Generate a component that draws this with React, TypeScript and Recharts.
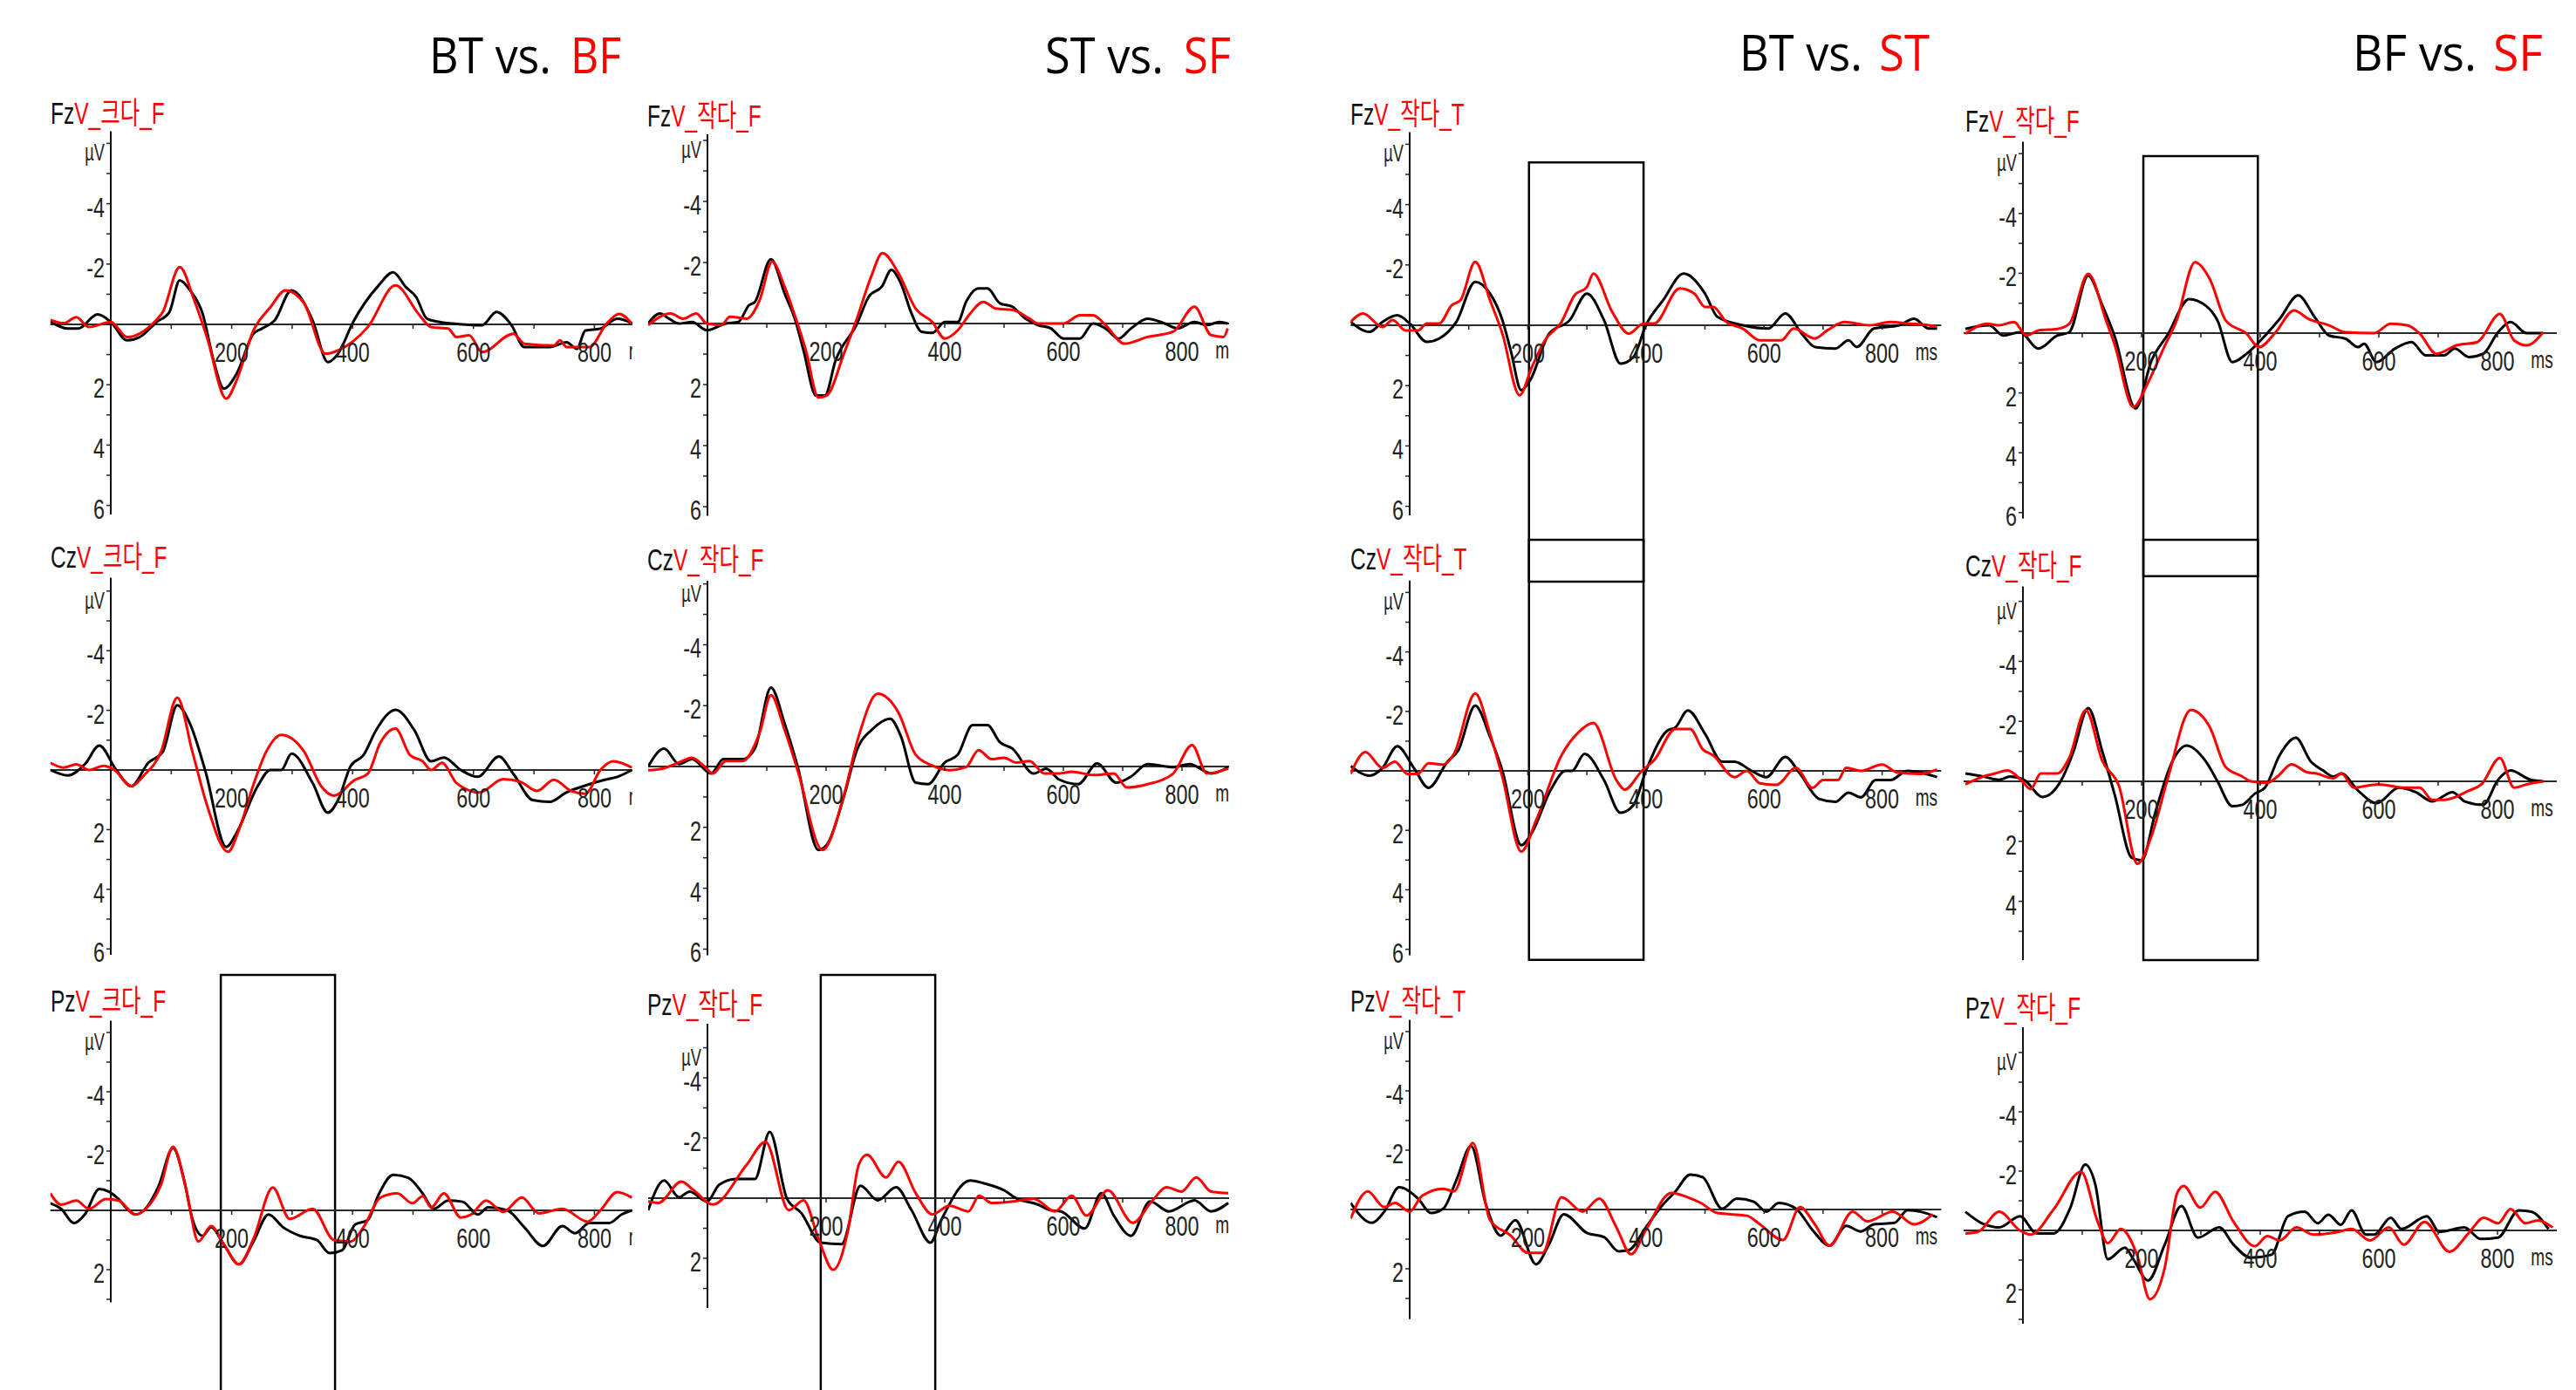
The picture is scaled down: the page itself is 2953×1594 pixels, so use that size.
import React from 'react';
import { LineChart, Line, XAxis, YAxis, ReferenceLine, ReferenceArea } from 'recharts';

type Pt = [number, number];

// ERP waveforms: [ms, µV] (negative up)
// BT vs. BF
const btbfFzBT: Pt[] = [[-100,-0.1],[-71,0.14],[-54,0.14],[-22,-0.33],[0,-0.08],[27,0.53],[48,0.42],[76,-0.08],[97,-0.41],[114,-1.46],[131,-1.13],[152,-0.35],[170,1.19],[187,2.13],[208,1.64],[236,0.31],[250,0.14],[271,-0.13],[299,-1.13],[334,-0.13],[359,1.25],[376,0.97],[401,-0.08],[443,-1.29],[467,-1.73],[488,-1.24],[505,-0.91],[523,-0.19],[544,-0.08],[569,-0.02],[614,0.03],[638,-0.41],[663,0.03],[684,0.75],[726,0.75],[754,0.59],[771,0.81],[785,0.2],[810,0.14],[838,-0.19],[862,-0.04]];
const btbfFzBF: Pt[] = [[-100,-0.15],[-78,-0.04],[-57,-0.24],[-36,0.09],[0,-0.08],[27,0.42],[69,-0.02],[86,-0.41],[114,-1.9],[138,-0.8],[159,0.42],[191,2.46],[208,1.86],[236,0.2],[264,-0.57],[289,-1.13],[320,-0.69],[355,0.97],[376,0.86],[425,0.09],[471,-1.29],[509,-0.35],[530,0.09],[558,0.14],[572,0.42],[593,0.36],[614,0.92],[666,0.31],[684,0.64],[733,0.7],[743,0.53],[754,0.75],[792,0.75],[820,-0.02],[841,-0.35],[862,-0.02]];
const btbfCzBT: Pt[] = [[-100,0],[-71,0.18],[-43,-0.19],[-19,-0.82],[9,0],[34,0.54],[62,-0.24],[86,-0.61],[110,-2.17],[131,-1.55],[156,0],[191,2.58],[208,2.11],[243,0.54],[264,0],[282,0],[299,-0.55],[334,0.44],[359,1.43],[376,1.01],[397,-0.14],[418,-0.5],[439,-1.34],[471,-2.02],[502,-1.34],[530,-0.29],[551,-0.42],[579,0],[607,0.23],[642,-0.45],[666,0.13],[698,1.01],[726,1.07],[754,0.75],[782,0.54],[817,0.33],[838,0.23],[862,0]];
const btbfCzBF: Pt[] = [[-100,-0.24],[-78,-0.08],[-57,-0.19],[-36,0],[-12,-0.14],[6,0],[34,0.54],[55,0.18],[83,-0.61],[110,-2.43],[135,-0.61],[159,1.17],[194,2.74],[212,2.01],[236,0.49],[257,-0.61],[282,-1.18],[320,-0.61],[348,0.54],[369,0.86],[404,0.33],[425,0.13],[446,-0.92],[471,-1.39],[495,-0.5],[516,-0.29],[530,0],[548,-0.24],[572,0.44],[610,0.75],[649,0.31],[677,0.39],[705,0.7],[733,0.33],[761,0.7],[785,0.8],[810,0],[831,-0.29],[862,-0.08]];
const btbfPzBT: Pt[] = [[-100,-0.24],[-82,-0.05],[-61,0.43],[-43,0.14],[-19,-0.72],[13,-0.38],[27,-0.05],[41,0.14],[55,0],[79,-0.81],[103,-2.1],[121,-1.05],[135,0.29],[152,0.86],[166,0.57],[187,1.15],[212,1.82],[236,1.05],[261,0.14],[285,0.57],[313,0.86],[341,1],[362,1.44],[383,1.34],[404,0.48],[425,0.33],[443,-0.53],[467,-1.2],[492,-1.1],[516,-0.57],[534,-0.05],[558,-0.33],[582,-0.29],[607,0.14],[624,-0.1],[656,0],[684,0.57],[715,1.2],[747,0.53],[768,0.77],[792,0.43],[824,0.43],[845,0.14],[862,0]];
const btbfPzBF: Pt[] = [[-100,-0.57],[-82,-0.19],[-57,-0.33],[-36,-0.05],[-8,-0.38],[13,-0.33],[41,0.14],[58,-0.05],[83,-0.86],[103,-2.15],[124,-0.77],[145,1.05],[166,0.53],[187,1.15],[212,1.82],[236,0.96],[268,-0.77],[296,0.29],[334,-0.05],[369,1],[397,1.05],[418,0.57],[446,-0.43],[474,-0.57],[499,-0.24],[516,-0.48],[530,-0.1],[551,-0.57],[579,0.24],[596,0.14],[621,-0.33],[649,0.05],[680,-0.43],[708,0.1],[747,-0.05],[789,0.38],[810,0],[838,-0.62],[862,-0.43]];

// ST vs. SF
const stsfFzST: Pt[] = [[-100,0],[-80,-0.33],[-65,-0.16],[-48,0],[-26,-0.05],[-1,0.22],[31,0],[52,-0.05],[70,-0.6],[80,-0.71],[107,-2.11],[130,-0.99],[148,-0.11],[162,0.88],[183,2.36],[198,2.36],[216,1.21],[251,0.05],[272,-0.88],[294,-1.21],[310,-1.76],[326,-1.32],[344,-0.33],[361,0.27],[379,0.31],[400,-0.05],[422,-0.05],[436,-0.71],[457,-1.15],[472,-1.15],[493,-0.66],[514,-0.55],[536,-0.16],[557,0.05],[579,0.16],[600,0.49],[628,0.49],[650,0],[671,0.16],[693,0.49],[714,0.16],[742,-0.16],[771,0],[792,0.16],[821,-0.05],[842,0.05],[863,-0.05],[877,0]];
const stsfFzSF: Pt[] = [[-100,0.05],[-62,-0.33],[-41,-0.16],[-19,-0.33],[-1,0],[23,0.05],[38,-0.22],[66,-0.16],[88,-0.77],[109,-2.03],[130,-1.21],[148,-0.22],[166,0.88],[187,2.42],[201,2.36],[230,0.99],[251,-0.11],[276,-1.54],[295,-2.31],[322,-1.65],[351,-0.49],[379,-0.05],[400,0.49],[422,0.22],[443,-0.33],[465,-0.71],[486,-0.49],[515,-0.44],[543,-0.16],[557,0],[600,0],[628,-0.27],[650,-0.27],[671,0.05],[703,0.66],[742,0.44],[785,0.27],[821,-0.55],[849,0.38],[870,0.44],[877,0.16]];
const stsfCzST: Pt[] = [[-100,0],[-73,-0.59],[-48,-0.08],[-26,-0.24],[6,0.23],[27,-0.24],[59,-0.24],[80,-0.59],[107,-2.59],[130,-1.42],[152,0],[187,2.74],[201,2.58],[230,0.99],[251,-0.49],[280,-1.26],[308,-1.57],[326,-1],[351,0.53],[372,0.58],[400,-0.13],[422,-0.39],[447,-1.36],[472,-1.36],[493,-0.8],[514,-0.59],[550,0.23],[571,0.07],[593,0.43],[625,0.58],[657,-0.1],[689,0.53],[714,0.33],[742,-0.08],[785,0.02],[813,-0.08],[849,0.23],[878,0.02]];
const stsfCzSF: Pt[] = [[-100,0.12],[-76,0.07],[-48,-0.13],[-26,-0.29],[-5,0],[9,0.23],[31,-0.18],[59,-0.18],[88,-1.11],[107,-2.34],[130,-1.21],[152,0.12],[194,2.74],[230,0.94],[255,-1],[287,-2.39],[322,-1.77],[351,-0.39],[379,-0.03],[408,0.12],[436,0.02],[457,-0.54],[479,-0.24],[500,-0.29],[521,-0.13],[543,-0.18],[568,0.23],[593,0.23],[614,0.17],[650,0.28],[685,0.23],[707,0.69],[742,0.58],[785,0.23],[817,-0.7],[842,0.23],[878,0.07]];
const stsfPzST: Pt[] = [[-100,0.4],[-73,-0.59],[-48,-0.03],[-30,-0.22],[-1,0.11],[20,-0.45],[48,-0.64],[80,-0.64],[105,-2.2],[134,0.02],[158,0.49],[191,1.48],[226,1.53],[258,-0.41],[287,0.07],[318,-0.36],[344,0.4],[376,1.48],[393,0.77],[443,-0.59],[465,-0.5],[500,-0.26],[522,0.02],[557,0.21],[578,0.4],[596,0.44],[636,1.01],[664,-0.17],[685,0.58],[714,1.25],[746,0.11],[778,0.44],[821,0.07],[849,0.44],[878,0.16]];
const stsfPzSF: Pt[] = [[-100,0.11],[-83,0.16],[-44,-0.55],[-23,-0.26],[9,0.21],[66,-1.11],[98,-1.87],[137,0.4],[162,0.07],[187,1.34],[212,2.38],[237,1.06],[255,-1.11],[269,-1.44],[301,-0.69],[322,-1.21],[351,-0.17],[379,0.54],[408,0.25],[440,0.44],[458,-0.08],[479,0.16],[515,0.11],[550,0.02],[586,0.44],[614,-0.08],[639,0.58],[675,-0.26],[717,0.82],[749,0.11],[774,-0.36],[799,-0.22],[824,-0.69],[849,-0.22],[878,-0.17]];

// BT vs. ST
const btstFzBT: Pt[] = [[-100,-0.11],[-68,0.22],[-46,-0.11],[-21,-0.33],[0,-0.06],[29,0.55],[50,0.44],[79,-0.11],[111,-1.44],[136,-1.05],[157,-0.17],[171,0.83],[189,2.15],[204,1.82],[236,0.28],[271,-0.17],[300,-1.05],[329,-0.17],[357,1.27],[379,1.05],[400,0],[429,-0.83],[464,-1.71],[500,-1.05],[521,-0.28],[564,0],[607,0.11],[636,-0.39],[664,0.28],[686,0.72],[721,0.77],[743,0.5],[757,0.72],[786,0.11],[829,0],[854,-0.22],[879,0.11],[893,0.11]];
const btstFzST: Pt[] = [[-100,-0.11],[-79,-0.39],[-46,0.06],[-29,-0.17],[-7,0.17],[14,0.17],[29,-0.06],[50,-0.06],[71,-0.66],[86,-0.83],[111,-2.1],[136,-0.83],[157,0.28],[186,2.32],[207,1.38],[229,0.5],[257,-0.11],[279,-0.99],[300,-1.27],[311,-1.71],[343,-0.44],[371,0.28],[396,-0.06],[414,-0.06],[457,-1.22],[482,-1.05],[500,-0.61],[514,-0.61],[536,-0.11],[564,0.11],[593,0.5],[629,0.5],[650,0.11],[686,0.44],[707,0.17],[736,-0.11],[779,0],[814,-0.11],[843,-0.06],[879,0],[893,0.06]];
const btstCzBT: Pt[] = [[-100,-0.16],[-68,0.16],[-46,-0.1],[-21,-0.83],[7,-0.1],[32,0.57],[64,-0.31],[82,-0.68],[111,-2.19],[136,-1.15],[157,0],[189,2.5],[207,2.08],[239,0.63],[264,0],[275,0],[296,-0.57],[329,0.31],[357,1.41],[379,1.15],[400,0],[436,-1.35],[450,-1.46],[471,-2.03],[500,-1.25],[529,-0.31],[550,-0.31],[579,0],[604,0.21],[636,-0.47],[661,0.1],[693,0.94],[721,1.04],[743,0.73],[764,0.89],[789,0.31],[814,0.31],[843,0],[893,0.21]];
const btstCzST: Pt[] = [[-100,0.1],[-75,-0.63],[-46,-0.1],[-25,-0.31],[-4,0.1],[14,0.1],[32,-0.26],[57,-0.21],[75,-0.57],[111,-2.6],[136,-1.25],[157,0.21],[189,2.71],[214,1.67],[257,-0.52],[286,-1.3],[311,-1.61],[350,0.31],[364,0.63],[393,0],[414,-0.36],[450,-1.41],[475,-1.41],[496,-0.73],[514,-0.52],[550,0.21],[571,0],[593,0.42],[621,0.47],[654,-0.1],[682,0.57],[700,0.31],[725,0.31],[739,-0.1],[764,0],[800,-0.21],[825,0.05],[864,0.1],[893,-0.05]];
const btstPzBT: Pt[] = [[-100,-0.22],[-64,0.45],[-43,0.07],[-18,-0.75],[14,-0.37],[36,0.12],[57,-0.03],[79,-0.99],[104,-2.14],[129,-0.17],[154,0.88],[179,0.36],[214,1.85],[236,1.17],[261,0.16],[300,0.79],[329,0.93],[354,1.41],[371,1.37],[400,0.6],[429,-0.17],[450,-0.61],[475,-1.18],[496,-1.09],[529,-0.03],[554,-0.37],[582,-0.27],[604,0.07],[625,-0.22],[654,-0.03],[682,0.69],[711,1.22],[739,0.55],[764,0.74],[786,0.5],[821,0.45],[843,0.02],[864,0.07],[893,0.26]];
const btstPzST: Pt[] = [[-100,0.31],[-71,-0.61],[-43,-0.08],[-25,-0.22],[0,0.07],[21,-0.46],[57,-0.7],[75,-0.61],[107,-2.24],[136,0.36],[171,0.88],[200,1.46],[225,1.46],[257,-0.41],[293,0.07],[321,-0.37],[350,0.6],[375,1.51],[400,0.69],[443,-0.56],[471,-0.41],[493,-0.22],[521,0.12],[543,0.16],[571,0.21],[593,0.5],[632,1.03],[661,-0.08],[686,0.5],[711,1.22],[750,0.07],[775,0.4],[818,0.07],[854,0.5],[886,0.16]];

// BF vs. SF
const bfsfFzBF: Pt[] = [[-97,-0.14],[-57,-0.26],[-33,0.08],[-5,-0.03],[26,0.52],[58,0.08],[78,-0.03],[110,-1.92],[134,-0.92],[155,0.13],[190,2.52],[217,0.91],[245,0.02],[280,-1.14],[308,-0.92],[328,-0.42],[353,0.97],[377,0.69],[398,0.3],[433,-0.48],[464,-1.26],[492,-0.53],[516,0.08],[544,0.19],[565,0.47],[575,0.36],[596,0.97],[627,0.52],[655,0.3],[679,0.74],[710,0.74],[728,0.52],[752,0.8],[776,0.69],[801,-0.03],[822,-0.37],[849,0],[877,0]];
const bfsfFzSF: Pt[] = [[-97,0.02],[-60,-0.31],[-40,-0.26],[-15,-0.37],[6,0.08],[26,-0.09],[58,-0.14],[78,-0.31],[110,-1.98],[141,-0.37],[155,0.41],[186,2.47],[210,1.69],[238,0.47],[259,-0.42],[290,-2.37],[315,-1.81],[342,-0.42],[377,0.02],[398,0.47],[426,-0.03],[457,-0.76],[481,-0.48],[516,-0.26],[544,-0.03],[592,0],[620,-0.31],[648,-0.26],[669,0.02],[697,0.69],[731,0.41],[766,0.3],[804,-0.64],[828,0.24],[849,0.41],[877,-0.03]];
const bfsfCzBF: Pt[] = [[-97,-0.26],[-67,-0.16],[-40,-0.05],[-22,-0.16],[2,-0.05],[33,0.52],[65,-0.05],[85,-0.98],[110,-2.44],[134,-0.98],[155,0.47],[183,2.54],[200,2.64],[224,0.98],[252,-0.67],[276,-1.19],[308,-0.67],[328,0],[353,0.83],[370,0.78],[391,0.41],[408,0.21],[433,-0.88],[460,-1.45],[485,-0.67],[506,-0.36],[523,-0.16],[537,-0.26],[565,0.31],[596,0.73],[634,0.21],[662,0.36],[690,0.67],[724,0.36],[745,0.67],[776,0.78],[801,-0.05],[822,-0.36],[856,-0.05],[877,0]];
const bfsfCzSF: Pt[] = [[-97,0.1],[-67,-0.16],[-47,-0.26],[-26,-0.36],[-1,0],[13,0.26],[30,-0.26],[58,-0.26],[78,-0.78],[106,-2.38],[134,-0.67],[162,0.16],[193,2.75],[217,1.81],[245,-0.16],[283,-2.38],[315,-1.81],[342,-0.47],[370,-0.16],[384,0],[412,0.05],[429,-0.16],[453,-0.57],[478,-0.31],[495,-0.26],[523,-0.1],[537,-0.26],[558,0.21],[599,0.1],[641,0.21],[669,0.21],[690,0.62],[710,0.62],[752,0.31],[773,0.1],[804,-0.78],[828,0.21],[849,0.1],[877,0]];
const bfsfPzBF: Pt[] = [[-97,-0.63],[-69,-0.24],[-40,-0.1],[-5,-0.48],[23,0.1],[52,0.1],[80,-0.77],[105,-2.22],[122,-1.55],[143,0.97],[172,0.58],[186,0.97],[211,1.69],[239,0.48],[267,-0.82],[295,0.24],[331,-0.1],[355,0.48],[384,0.92],[419,0.82],[447,-0.48],[475,-0.63],[497,-0.24],[515,-0.53],[536,-0.19],[554,-0.68],[578,0.14],[592,0.14],[620,-0.43],[638,-0.05],[681,-0.48],[702,0.05],[744,-0.1],[772,0.29],[801,0.24],[836,-0.68],[857,-0.63],[886,-0.05]];
const bfsfPzSF: Pt[] = [[-97,0.1],[-76,0.05],[-40,-0.63],[-5,0],[13,0.14],[52,-0.72],[98,-1.98],[126,-0.29],[143,0.43],[165,-0.05],[193,0.87],[214,2.32],[239,1.26],[260,-1.26],[271,-1.5],[299,-0.77],[324,-1.3],[355,-0.29],[391,0.53],[412,0.19],[433,0.34],[461,-0.1],[490,0.14],[532,0.05],[554,-0.05],[585,0.34],[617,-0.1],[642,0.48],[677,-0.29],[719,0.72],[751,0.1],[777,-0.43],[801,-0.24],[822,-0.72],[847,-0.24],[868,-0.34],[893,-0.1]];

// column titles and panel labels
const titleBlack = ['BT vs.', 'ST vs.', 'BT vs.', 'BF vs.'];
const titleRed = ['BF', 'SF', 'ST', 'SF'];
const conditionLabels = ['V_크다_F', 'V_작다_F', 'V_작다_T', 'V_작다_F'];
const channels = ['Fz', 'Cz', 'Pz'];

// highlighted time windows (ms, µV of the panel they are drawn in)
const windows = [
  { panel: 2, x1: 202, x2: 396, y1: -5.4, y2: 8.5 },
  { panel: 3, x1: 203, x2: 396, y1: -5.92, y2: 8.13 },
  { panel: 6, x1: 202, x2: 396, y1: -7.77, y2: 6.36 },
  { panel: 7, x1: 203, x2: 396, y1: -8.05, y2: 5.96 },
  { panel: 8, x1: 182, x2: 371, y1: -7.94, y2: 7.5 },
  { panel: 9, x1: 191, x2: 384, y1: -7.42, y2: 7.5 },
];

const series: Pt[][][] = [
  [btbfFzBT, btbfFzBF], [stsfFzST, stsfFzSF], [btstFzBT, btstFzST], [bfsfFzBF, bfsfFzSF],
  [btbfCzBT, btbfCzBF], [stsfCzST, stsfCzSF], [btstCzBT, btstCzST], [bfsfCzBF, bfsfCzSF],
  [btbfPzBT, btbfPzBF], [stsfPzST, stsfPzSF], [btstPzBT, btstPzST], [bfsfPzBF, bfsfPzSF],
];

// layout
const W = 2953;
const H = 1594;
const TICK_FONT = '"Liberation Sans", Arial, "Noto Sans CJK KR", sans-serif';
const TITLE_FONT = '"Open Sans", "Noto Sans", sans-serif';
const RED = '#ff0000';

const COLS = [
  { wrapL: 0, wrapW: 725, x0: 127, px100: 69.3, labelX: 58, title: { x: 492, xr: 654, y: 84, len: 140, lenR: 58 } },
  { wrapL: 740, wrapW: 669, x0: 811, px100: 68, labelX: 742, title: { x: 1198, xr: 1357, y: 84, len: 136, lenR: 54 } },
  { wrapL: 1500, wrapW: 740, x0: 1616, px100: 67.7, labelX: 1548, title: { x: 1994, xr: 2154, y: 81, len: 141, lenR: 58 } },
  { wrapL: 2200, wrapW: 753, x0: 2319, px100: 68, labelX: 2253, title: { x: 2697, xr: 2858, y: 81, len: 142, lenR: 57 } },
];

const PANELS = [
  { base: 372, pxUv: 34.6, yTop: -6.4, yBot: 6.3, labelY: 142, unitAt: -6 },
  { base: 371, pxUv: 35.0, yTop: -6.2, yBot: 6.3, labelY: 145, unitAt: -6 },
  { base: 373, pxUv: 34.6, yTop: -6.4, yBot: 6.3, labelY: 143, unitAt: -6 },
  { base: 382, pxUv: 34.3, yTop: -6.4, yBot: 6.2, labelY: 151, unitAt: -6 },
  { base: 883, pxUv: 34.2, yTop: -6.45, yBot: 6.2, labelY: 651, unitAt: -6 },
  { base: 879, pxUv: 34.9, yTop: -6.1, yBot: 6.2, labelY: 654, unitAt: -6 },
  { base: 884, pxUv: 34.1, yTop: -6.4, yBot: 6.2, labelY: 653, unitAt: -6 },
  { base: 896, pxUv: 34.4, yTop: -6.5, yBot: 5.96, labelY: 661, unitAt: -6 },
  { base: 1388, pxUv: 34.0, yTop: -6.4, yBot: 3.1, labelY: 1160, unitAt: -6 },
  { base: 1374, pxUv: 34.5, yTop: -5.8, yBot: 3.65, labelY: 1164, unitAt: -5 },
  { base: 1387, pxUv: 34.0, yTop: -6.4, yBot: 3.7, labelY: 1160, unitAt: -6 },
  { base: 1411, pxUv: 34.0, yTop: -6.85, yBot: 3.15, labelY: 1168, unitAt: -6 },
];

const X_TICKS = [0, 100, 200, 300, 400, 500, 600, 700, 800, 875];
const X_LABELS: Record<number, string> = { 200: '200', 400: '400', 600: '600', 800: '800', 875: 'ms' };
// recharts skips an axis of zero size, so each axis keeps 1px
const AXIS_PX = 1;

function XTick(props: any) {
  const { x, y, payload, up } = props;
  const v = payload.value;
  const by = y - up;
  const label = X_LABELS[v];
  const isUnit = v === 875;
  return (
    <g>
      {!isUnit && v !== 0 && <line x1={x} x2={x} y1={by} y2={by + 5} stroke="#222" strokeWidth={1.5} />}
      {label && (
        <text
          transform={`translate(${x},${by + (isUnit ? 40 : 43)}) scale(${isUnit ? 0.68 : 0.73},1)`}
          textAnchor="middle"
          fontSize={isUnit ? 28 : 32}
          fontFamily={TICK_FONT}
          fill="#222"
        >
          {label}
        </text>
      )}
    </g>
  );
}

function YTick(props: any) {
  const { x, y, payload, shift, unitAt } = props;
  const v = payload.value;
  const ax = x + shift;
  let label: string | null = null;
  let dy = 15;
  let fs = 32;
  let sx = 0.73;
  if (v === unitAt) {
    label = 'µV';
    dy = 20;
    fs = 28;
    sx = 0.65;
  } else if (v !== 0 && v % 2 === 0) {
    label = String(v);
  }
  return (
    <g>
      {v !== 0 && <line x1={ax - 5} x2={ax} y1={y} y2={y} stroke="#222" strokeWidth={1.5} />}
      {label && (
        <text
          transform={`translate(${ax - 7},${y + dy}) scale(${sx},1)`}
          textAnchor="end"
          fontSize={fs}
          fontFamily={TICK_FONT}
          fill="#222"
        >
          {label}
        </text>
      )}
    </g>
  );
}

function Panel({ index }: { index: number }) {
  const p = PANELS[index];
  const c = COLS[index % 4];
  const [blackPts, redPts] = series[index];
  const black = blackPts.map(([t, v]) => ({ t, v }));
  const red = redPts.map(([t, v]) => ({ t, v }));

  const plotLeft = c.x0 - c.px100;
  const plotW = c.px100 * 10;
  const plotTop = p.base + p.yTop * p.pxUv;
  const plotH = (p.yBot - p.yTop) * p.pxUv;
  const mL = plotLeft - c.wrapL;
  const margin = { top: plotTop, left: mL - AXIS_PX, right: 10, bottom: H - plotTop - plotH - AXIS_PX };
  const yTicks: number[] = [];
  for (let v = Math.ceil(p.yTop); v <= Math.floor(p.yBot); v++) yTicks.push(v);
  const boxes = windows.filter((w) => w.panel === index);

  return (
    <div style={{ position: 'absolute', left: c.wrapL, top: 0, width: c.wrapW, height: H, overflow: 'hidden' }}>
      <LineChart width={mL + plotW + 10} height={H} margin={margin}>
        <XAxis
          type="number"
          dataKey="t"
          domain={[-100, 900]}
          ticks={X_TICKS}
          interval={0}
          tickSize={0}
          tickMargin={0}
          axisLine={false}
          tickLine={false}
          height={AXIS_PX}
          allowDataOverflow
          tick={(tp: any) => <XTick {...tp} up={p.yBot * p.pxUv} />}
        />
        <YAxis
          type="number"
          domain={[p.yTop, p.yBot]}
          reversed
          ticks={yTicks}
          interval={0}
          tickSize={0}
          tickMargin={0}
          axisLine={false}
          tickLine={false}
          width={AXIS_PX}
          allowDataOverflow
          tick={(tp: any) => <YTick {...tp} shift={c.px100} unitAt={p.unitAt} />}
        />
        <ReferenceLine y={0} stroke="#2a2a2a" strokeWidth={2} />
        <ReferenceLine x={0} stroke="#111" strokeWidth={2} />
        {boxes.map((b, i) => (
          <ReferenceArea
            key={i}
            x1={b.x1}
            x2={b.x2}
            y1={b.y1}
            y2={b.y2}
            ifOverflow="visible"
            fill="none"
            fillOpacity={0}
            stroke="#000"
            strokeWidth={2.5}
          />
        ))}
        <Line data={black} dataKey="v" type="monotone" stroke="#000" strokeWidth={3} dot={false} isAnimationActive={false} />
        <Line data={red} dataKey="v" type="monotone" stroke={RED} strokeWidth={3} dot={false} isAnimationActive={false} />
      </LineChart>
    </div>
  );
}

export default function App() {
  return (
    <div style={{ position: 'absolute', left: 0, top: 0, width: W, height: H, background: '#fff', overflow: 'hidden' }}>
      {PANELS.map((_, i) => (
        <Panel key={i} index={i} />
      ))}
      <svg width={W} height={H} style={{ position: 'absolute', left: 0, top: 0, pointerEvents: 'none' }}>
        {COLS.map((c, ci) => (
          <g key={`t${ci}`}>
            <text
              x={c.title.x}
              y={c.title.y}
              textLength={c.title.len}
              lengthAdjust="spacingAndGlyphs"
              fontSize={56}
              fontFamily={TITLE_FONT}
              fill="#000"
            >
              {titleBlack[ci]}
            </text>
            <text
              x={c.title.xr}
              y={c.title.y}
              textLength={c.title.lenR}
              lengthAdjust="spacingAndGlyphs"
              fontSize={56}
              fontFamily={TITLE_FONT}
              fill={RED}
            >
              {titleRed[ci]}
            </text>
          </g>
        ))}
        {PANELS.map((p, i) => {
          const c = COLS[i % 4];
          return (
            <text
              key={`l${i}`}
              transform={`translate(${c.labelX},${p.labelY}) scale(0.7,1)`}
              fontSize={35}
              fontFamily={TICK_FONT}
              fill="#111"
            >
              {channels[Math.floor(i / 4)]}
              <tspan fill={RED}>{conditionLabels[i % 4]}</tspan>
            </text>
          );
        })}
      </svg>
    </div>
  );
}
